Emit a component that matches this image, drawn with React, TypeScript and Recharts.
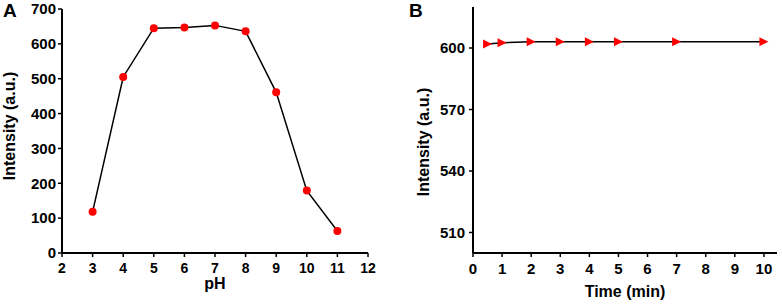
import React from 'react';
import { LineChart, Line, XAxis, YAxis, Label } from 'recharts';

// Panel A: intensity vs pH
const phValues = [3, 4, 5, 6, 7, 8, 9, 10, 11];
const phIntensity = [118, 505, 645, 647, 653, 636, 461, 179, 63];
const phXTicks = [2, 3, 4, 5, 6, 7, 8, 9, 10, 11, 12];
const phYTicks = [0, 100, 200, 300, 400, 500, 600, 700];

// Panel B: intensity vs time
const timeValues = [0.5, 1, 2, 3, 4, 5, 7, 10];
const timeIntensity = [602, 602.6, 603, 603, 603, 603, 603.1, 603.1];
const timeXTicks = [0, 1, 2, 3, 4, 5, 6, 7, 8, 9, 10];
const timeYTicks = [510, 540, 570, 600];

const phData = phValues.map((x, i) => ({ ph: x, intensity: phIntensity[i] }));
const timeData = timeValues.map((x, i) => ({ time: x, intensity: timeIntensity[i] }));

const FONT = '"Liberation Sans", Arial, Helvetica, sans-serif';
const axisLine = { stroke: '#000', strokeWidth: 2 };
const tickLine = { stroke: '#000', strokeWidth: 1.5 };
const tickStyle = { fill: '#000', fontFamily: FONT, fontWeight: 700 };

const yTitle = (text: string, dx: number, dy: number) => (props: any) => {
  const vb = props.viewBox || { x: 0, y: 0, width: 0, height: 0 };
  const x = vb.x + dx;
  const y = vb.y + vb.height / 2 + dy;
  return (
    <text
      x={x}
      y={y}
      transform={`rotate(-90 ${x} ${y})`}
      textAnchor="middle"
      dominantBaseline="central"
      fill="#000"
      style={{ fontFamily: FONT, fontWeight: 700, fontSize: 16 }}
    >
      {text}
    </text>
  );
};

const xTitle = (text: string, dy: number) => (props: any) => {
  const vb = props.viewBox || { x: 0, y: 0, width: 0, height: 0 };
  const x = vb.x + vb.width / 2;
  const y = vb.y + dy;
  return (
    <text x={x} y={y} textAnchor="middle" fill="#000" style={{ fontFamily: FONT, fontWeight: 700, fontSize: 16 }}>
      {text}
    </text>
  );
};

const TriangleDot = (props: any) => {
  const { cx, cy } = props;
  if (cx == null || cy == null) return null;
  const s = 4.5;
  return <polygon points={`${cx - s},${cy - s} ${cx + s},${cy} ${cx - s},${cy + s}`} fill="#ff0000" stroke="none" />;
};

export default function App() {
  return (
    <div style={{ position: 'absolute', left: 0, top: 0, width: 782, height: 304, background: '#fff' }}>
      <div style={{ position: 'absolute', left: 0, top: 0 }}>
        <LineChart width={390} height={304} data={phData} margin={{ top: 9, right: 22, left: 0, bottom: 0 }}>
          <XAxis
            dataKey="ph"
            type="number"
            domain={[2, 12]}
            ticks={phXTicks}
            interval={0}
            height={51}
            axisLine={axisLine}
            tickLine={tickLine}
            tickSize={4}
            tickMargin={6}
            tick={{ ...tickStyle, fontSize: 14 }}
          >
            <Label content={xTitle('pH', 36)} />
          </XAxis>
          <XAxis xAxisId="top" orientation="top" dataKey="ph" type="number" domain={[2, 12]} height={0} tick={false} tickLine={false} axisLine={axisLine} />
          <YAxis
            type="number"
            domain={[0, 700]}
            ticks={phYTicks}
            interval={0}
            width={62}
            axisLine={axisLine}
            tickLine={tickLine}
            tickSize={4}
            tickMargin={2}
            tick={{ ...tickStyle, fontSize: 15 }}
          >
            <Label content={yTitle('Intensity (a.u.)', 9, -5)} />
          </YAxis>
          <YAxis yAxisId="right" orientation="right" type="number" domain={[0, 700]} width={0} tick={false} tickLine={false} axisLine={axisLine} />
          <Line
            dataKey="intensity"
            stroke="#000"
            strokeWidth={1.5}
            isAnimationActive={false}
            dot={{ r: 4, fill: '#ff0000', stroke: 'none' }}
            activeDot={false}
          />
        </LineChart>
      </div>
      <div style={{ position: 'absolute', left: 392, top: 0 }}>
        <LineChart width={390} height={304} data={timeData} margin={{ top: 7, right: 5, left: 0, bottom: 0 }}>
          <XAxis
            dataKey="time"
            type="number"
            domain={[0, 10.45]}
            ticks={timeXTicks}
            interval={0}
            height={51}
            axisLine={axisLine}
            tickLine={tickLine}
            tickSize={4}
            tickMargin={6}
            tick={{ ...tickStyle, fontSize: 15 }}
          >
            <Label content={xTitle('Time (min)', 44)} />
          </XAxis>
          <XAxis xAxisId="top" orientation="top" dataKey="time" type="number" domain={[0, 10.45]} height={0} tick={false} tickLine={false} axisLine={axisLine} />
          <YAxis
            type="number"
            domain={[500, 620]}
            ticks={timeYTicks}
            interval={0}
            width={81}
            axisLine={axisLine}
            tickLine={tickLine}
            tickSize={4}
            tickMargin={4}
            tick={{ ...tickStyle, fontSize: 15 }}
          >
            <Label content={yTitle('Intensity (a.u.)', 31, 12)} />
          </YAxis>
          <YAxis yAxisId="right" orientation="right" type="number" domain={[500, 620]} width={0} tick={false} tickLine={false} axisLine={axisLine} />
          <Line
            dataKey="intensity"
            stroke="#000"
            strokeWidth={1.5}
            isAnimationActive={false}
            dot={<TriangleDot />}
            activeDot={false}
          />
        </LineChart>
      </div>
      <div style={{ position: 'absolute', left: 3, top: 0, fontFamily: FONT, fontWeight: 700, fontSize: 19, lineHeight: '22px', color: '#000' }}>A</div>
      <div style={{ position: 'absolute', left: 409, top: 0, fontFamily: FONT, fontWeight: 700, fontSize: 19, lineHeight: '22px', color: '#000' }}>B</div>
    </div>
  );
}
